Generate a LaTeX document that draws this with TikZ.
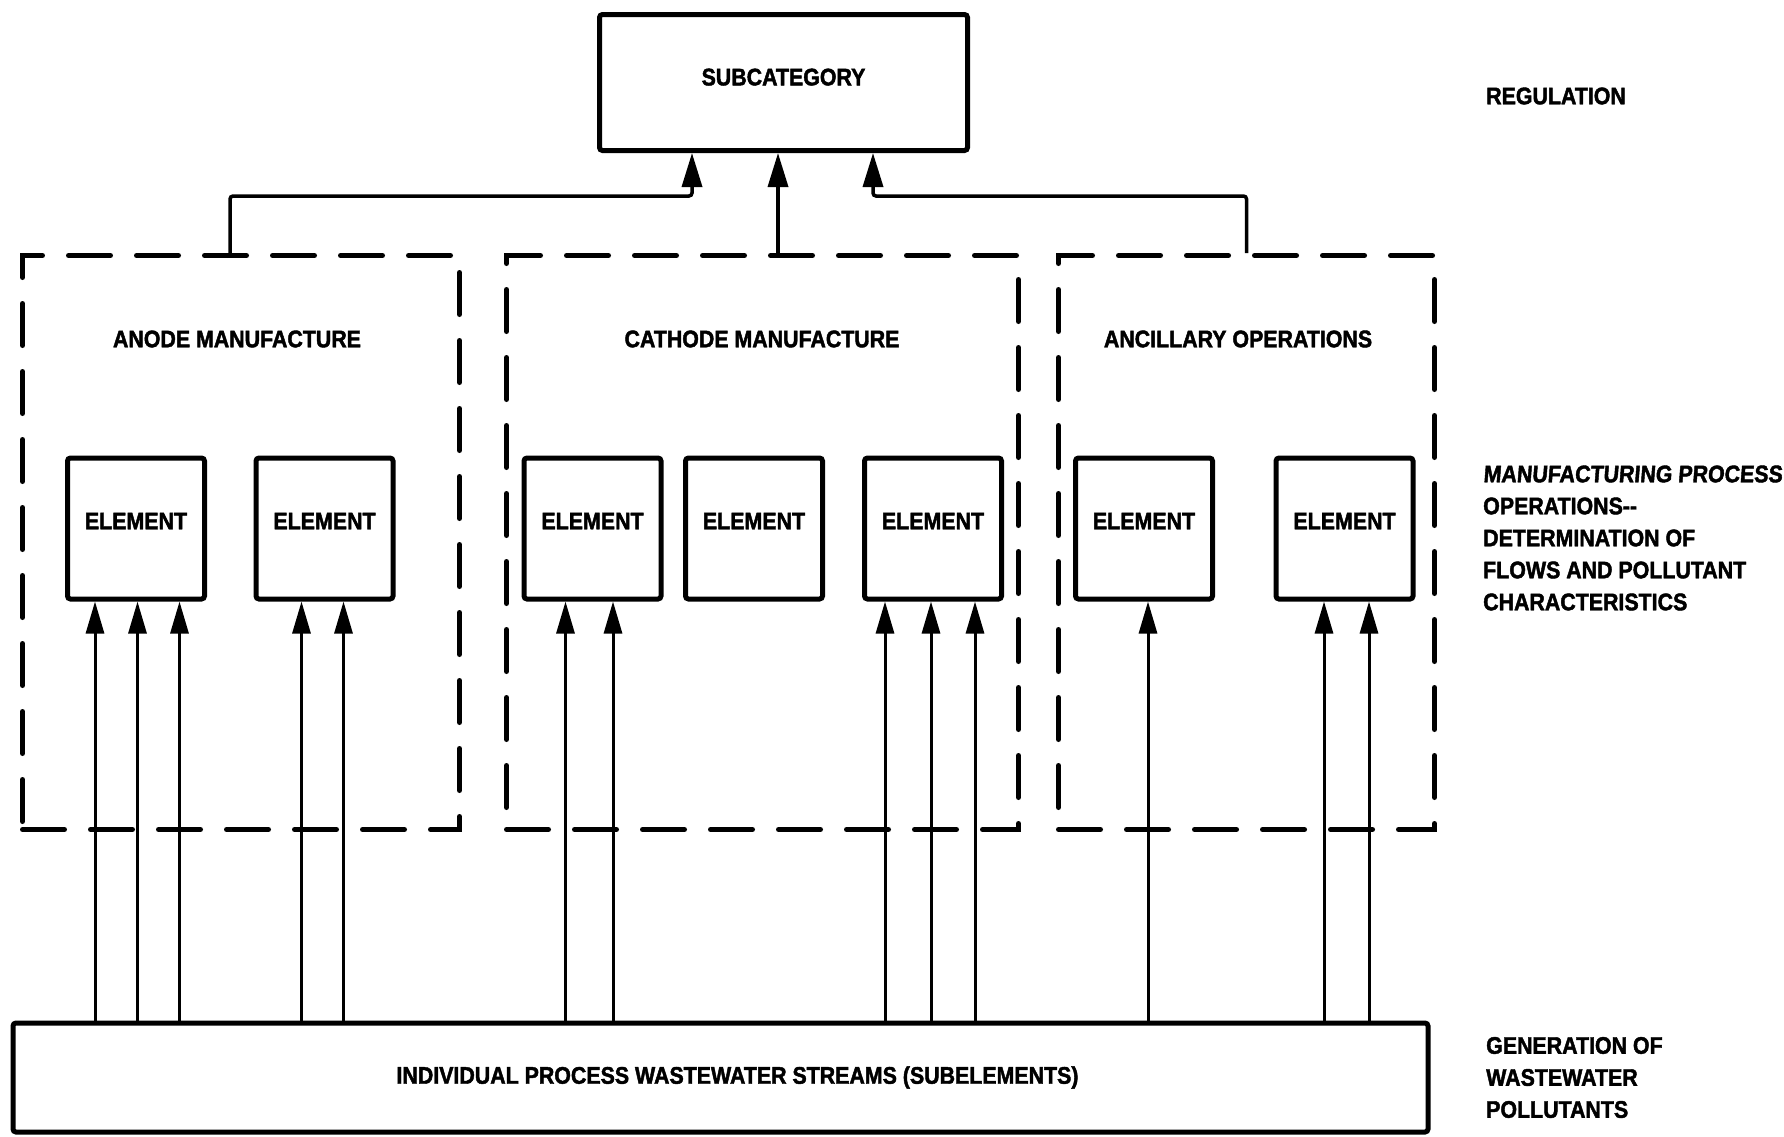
\documentclass[tikz,border=0pt]{standalone}
\usepackage{fontspec}
\newfontfamily\diafont[FakeStretch=0.89, BoldFeatures={FakeBold=1.8}]{Liberation Sans}
\newfontfamily\diaslant[FakeStretch=0.89, FakeSlant=0.08, BoldFeatures={FakeBold=1.8}]{Liberation Sans}
\usetikzlibrary{arrows.meta}
\begin{document}
\begin{tikzpicture}[x=1pt,y=-1pt,
  lab/.style={font=\diafont\bfseries\fontsize{24}{32}\selectfont, inner sep=0pt},
  solidbox/.style={draw, line width=5pt, rounded corners=3pt, lab},
  elem/.style={solidbox, minimum width=137pt, minimum height=141pt},
  groupbox/.style={draw, line width=5pt, dash pattern=on 42pt off 26pt, line cap=round, inner sep=0pt},
  feed/.style={line width=3pt, -{Triangle[length=32pt,width=18pt]}},
  conn/.style={line width=3.5pt, rounded corners=3pt, -{Triangle[length=34pt,width=20pt]}},
  side/.style={lab, anchor=west, align=left}
]
\useasboundingbox (0,0) rectangle (1784,1136);
\fill[white] (0,0) rectangle (1784,1136);

% regulation level
\node[solidbox, minimum width=368pt, minimum height=136pt] (sub) at (783.5,82.5) {\raisebox{11pt}{SUBCATEGORY}};

% process groups
\node[groupbox, minimum width=437pt, minimum height=574pt] (anode) at (241,542.5) {};
\node[groupbox, minimum width=512pt, minimum height=574pt] (cath) at (762.5,542.5) {};
\node[groupbox, minimum width=376pt, minimum height=574pt] (anc) at (1246.5,542.5) {};

\node[lab] (tanode) at (237,339) {ANODE MANUFACTURE};
\node[lab] (tcath) at (762,339) {CATHODE MANUFACTURE};
\node[lab] (tanc) at (1238,339) {ANCILLARY OPERATIONS};

% elements
\foreach \n/\x in {e1/136, e2/324.5, e3/592.5, e4/754, e5/933, e6/1144, e7/1344.5}
  \node[elem] (\n) at (\x,528.5) {\raisebox{15pt}{ELEMENT}};

% wastewater streams
\node[solidbox, minimum width=1415pt, minimum height=109pt] (src) at (720.5,1077.5)
  {\hspace*{34pt}INDIVIDUAL PROCESS WASTEWATER STREAMS (SUBELEMENTS)};

% streams feeding the elements
\foreach \e/\dx [count=\i] in {e1/-41, e1/1.5, e1/43.5, e2/-23, e2/19,
    e3/-27, e3/20.5, e5/-48, e5/-2, e5/42, e6/4, e7/-20.5, e7/24.5} {
  \coordinate (t\i) at ([xshift=\dx pt]\e.south);
  \draw[feed] (t\i |- src.north) -- (t\i);
}

% groups feeding the subcategory
\coordinate (ca) at ([xshift=-11pt]anode.north);
\coordinate (cb) at ([xshift=15.5pt]cath.north);
\coordinate (sa) at ([xshift=-91.5pt]sub.south);
\coordinate (sc) at ([xshift=89.5pt]sub.south);
\draw[conn] (ca) -- ++(0,-57) -| (sa);
\draw[conn] (cb) -- (cb |- sub.south);
\draw[conn] (anc.north) -- ++(0,-57) -| (sc);

% level captions
\node[side] (lreg) at (1486,96) {REGULATION};
\node[side] (lman) at (1483,538) {{\diaslant\bfseries MANUFACTURING PROCESS}\\OPERATIONS-{}-\\DETERMINATION OF\\FLOWS AND POLLUTANT\\CHARACTERISTICS};
\node[side] (lgen) at (1486,1077.5) {GENERATION OF\\WASTEWATER\\POLLUTANTS};
\end{tikzpicture}
\end{document}
